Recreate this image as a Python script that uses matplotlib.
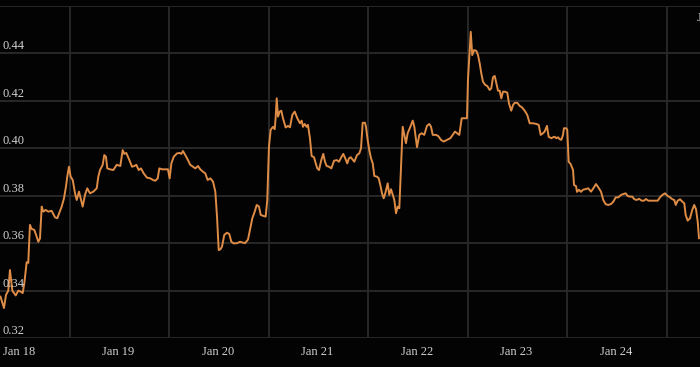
import numpy as np
import matplotlib
matplotlib.use("Agg")
import matplotlib.pyplot as plt

# decimal year vs value
years = [2017.985, 2018.020, 2018.040, 2018.063, 2018.080, 2018.104, 2018.138, 2018.164, 2018.188, 2018.208,
         2018.224, 2018.248, 2018.264, 2018.281, 2018.298, 2018.325, 2018.349, 2018.365, 2018.382, 2018.399,
         2018.415, 2018.439, 2018.465, 2018.499, 2018.533, 2018.556, 2018.576, 2018.600, 2018.623, 2018.643,
         2018.656, 2018.673, 2018.690, 2018.711, 2018.734, 2018.751, 2018.774, 2018.794, 2018.811, 2018.834,
         2018.857, 2018.884, 2018.918, 2018.952, 2018.968, 2018.985, 2019.012, 2019.028, 2019.045, 2019.058,
         2019.085, 2019.119, 2019.153, 2019.189, 2019.213, 2019.229, 2019.249, 2019.273, 2019.307, 2019.330,
         2019.350, 2019.374, 2019.397, 2019.424, 2019.457, 2019.490, 2019.518, 2019.541, 2019.565, 2019.581,
         2019.608, 2019.641, 2019.668, 2019.685, 2019.702, 2019.726, 2019.759, 2019.786, 2019.802, 2019.819,
         2019.842, 2019.869, 2019.892, 2019.920, 2019.943, 2019.970, 2019.993, 2020.020, 2020.043, 2020.067,
         2020.094, 2020.121, 2020.144, 2020.161, 2020.178, 2020.194, 2020.211, 2020.234, 2020.261, 2020.284,
         2020.305, 2020.329, 2020.362, 2020.392, 2020.442, 2020.472, 2020.516, 2020.540, 2020.560, 2020.583,
         2020.600, 2020.626, 2020.650, 2020.666, 2020.683, 2020.700, 2020.724, 2020.741, 2020.751, 2020.761,
         2020.774, 2020.791, 2020.807, 2020.824, 2020.851, 2020.874, 2020.894, 2020.918, 2020.942, 2020.968,
         2020.995, 2021.012, 2021.025, 2021.042, 2021.062, 2021.075, 2021.095, 2021.112, 2021.136, 2021.153,
         2021.169, 2021.186, 2021.209, 2021.229, 2021.246, 2021.263, 2021.286, 2021.310, 2021.337, 2021.364,
         2021.387, 2021.410, 2021.430, 2021.454, 2021.470, 2021.487, 2021.505, 2021.541, 2021.568, 2021.591,
         2021.608, 2021.625, 2021.648, 2021.658, 2021.675, 2021.691, 2021.709, 2021.726, 2021.742, 2021.769,
         2021.786, 2021.802, 2021.819, 2021.836, 2021.852, 2021.876, 2021.892, 2021.910, 2021.927, 2021.943,
         2021.960, 2021.977, 2021.993, 2022.010, 2022.027, 2022.043, 2022.060, 2022.077, 2022.104, 2022.128,
         2022.144, 2022.161, 2022.171, 2022.194, 2022.218, 2022.244, 2022.271, 2022.295, 2022.312, 2022.329,
         2022.362, 2022.385, 2022.412, 2022.439, 2022.472, 2022.506, 2022.530, 2022.553, 2022.573, 2022.596,
         2022.620, 2022.656, 2022.673, 2022.683, 2022.711, 2022.726, 2022.744, 2022.767, 2022.784, 2022.801,
         2022.817, 2022.834, 2022.857, 2022.877, 2022.901, 2022.917, 2022.935, 2022.952, 2022.968, 2022.985,
         2023.002, 2023.018, 2023.035, 2023.052, 2023.078, 2023.095, 2023.118, 2023.136, 2023.153, 2023.179,
         2023.203, 2023.226, 2023.253, 2023.279, 2023.303, 2023.337, 2023.370, 2023.394, 2023.414, 2023.437,
         2023.454, 2023.477, 2023.494, 2023.521, 2023.538, 2023.555, 2023.571, 2023.588, 2023.605, 2023.621,
         2023.638, 2023.648, 2023.671, 2023.681, 2023.695, 2023.715, 2023.739, 2023.749, 2023.769, 2023.779,
         2023.799, 2023.819, 2023.839, 2023.859, 2023.892, 2023.920, 2023.943, 2023.970, 2023.993, 2024.020,
         2024.043, 2024.067, 2024.093, 2024.121, 2024.144, 2024.168, 2024.194, 2024.221, 2024.244, 2024.268,
         2024.288, 2024.312, 2024.335, 2024.355, 2024.379, 2024.402, 2024.429, 2024.452, 2024.472, 2024.495,
         2024.523, 2024.556, 2024.590, 2024.613, 2024.636, 2024.663, 2024.690, 2024.714, 2024.737, 2024.757,
         2024.771, 2024.791, 2024.814, 2024.837, 2024.857, 2024.871, 2024.891, 2024.915, 2024.937, 2024.957,
         2024.975, 2024.992, 2025.005]

values = [0.3375, 0.3327, 0.3382, 0.3400, 0.3487, 0.3400, 0.3380, 0.3400, 0.3396, 0.3390,
          0.3430, 0.3520, 0.3517, 0.3677, 0.3660, 0.3656, 0.3627, 0.3606, 0.3620, 0.3754,
          0.3733, 0.3740, 0.3733, 0.3736, 0.3709, 0.3705, 0.3728, 0.3754, 0.3789, 0.3838,
          0.3880, 0.3922, 0.3880, 0.3866, 0.3810, 0.3782, 0.3817, 0.3782, 0.3754, 0.3803,
          0.3831, 0.3810, 0.3817, 0.3831, 0.3880, 0.3908, 0.3930, 0.3971, 0.3964, 0.3915,
          0.3911, 0.3908, 0.3930, 0.3925, 0.3992, 0.3976, 0.3980, 0.3957, 0.3922, 0.3925,
          0.3930, 0.3908, 0.3915, 0.3894, 0.3876, 0.3873, 0.3866, 0.3863, 0.3873, 0.3915,
          0.3911, 0.3911, 0.3911, 0.3873, 0.3936, 0.3964, 0.3978, 0.3980, 0.3976, 0.3988,
          0.3971, 0.3950, 0.3930, 0.3922, 0.3915, 0.3925, 0.3911, 0.3901, 0.3894, 0.3866,
          0.3873, 0.3859, 0.3817, 0.3712, 0.3571, 0.3574, 0.3585, 0.3635, 0.3644, 0.3639,
          0.3606, 0.3599, 0.3600, 0.3606, 0.3600, 0.3615, 0.3705, 0.3733, 0.3761, 0.3754,
          0.3719, 0.3715, 0.3712, 0.3782, 0.4006, 0.4077, 0.4090, 0.4080, 0.4133, 0.4210,
          0.4133, 0.4154, 0.4158, 0.4126, 0.4087, 0.4094, 0.4088, 0.4140, 0.4154, 0.4126,
          0.4105, 0.4116, 0.4090, 0.4102, 0.4090, 0.4098, 0.4042, 0.3967, 0.3962, 0.3936,
          0.3915, 0.3908, 0.3950, 0.3976, 0.3943, 0.3925, 0.3922, 0.3915, 0.3947, 0.3950,
          0.3943, 0.3962, 0.3976, 0.3953, 0.3936, 0.3957, 0.3962, 0.3943, 0.3971, 0.3978,
          0.3999, 0.4107, 0.4107, 0.4090, 0.4035, 0.3992, 0.3957, 0.3936, 0.3883, 0.3880,
          0.3873, 0.3845, 0.3810, 0.3789, 0.3810, 0.3852, 0.3803, 0.3827, 0.3803, 0.3782,
          0.3726, 0.3754, 0.3747, 0.3922, 0.4090, 0.4056, 0.4021, 0.4063, 0.4090, 0.4116,
          0.4090, 0.4035, 0.4004, 0.4056, 0.4063, 0.4056, 0.4094, 0.4102, 0.4090, 0.4056,
          0.4056, 0.4051, 0.4035, 0.4028, 0.4035, 0.4042, 0.4056, 0.4070, 0.4063, 0.4056,
          0.4126, 0.4126, 0.4126, 0.4287, 0.4490, 0.4392, 0.4413, 0.4410, 0.4392, 0.4357,
          0.4315, 0.4280, 0.4266, 0.4262, 0.4245, 0.4252, 0.4299, 0.4304, 0.4273, 0.4242,
          0.4242, 0.4210, 0.4238, 0.4238, 0.4234, 0.4189, 0.4158, 0.4182, 0.4191, 0.4191,
          0.4178, 0.4172, 0.4158, 0.4140, 0.4105, 0.4105, 0.4102, 0.4098, 0.4056, 0.4063,
          0.4070, 0.4094, 0.4048, 0.4042, 0.4046, 0.4048, 0.4042, 0.4046, 0.4038, 0.4035,
          0.4056, 0.4084, 0.4084, 0.4077, 0.3943, 0.3933, 0.3908, 0.3845, 0.3840, 0.3816,
          0.3825, 0.3816, 0.3825, 0.3827, 0.3831, 0.3817, 0.3831, 0.3849, 0.3835, 0.3817,
          0.3782, 0.3764, 0.3761, 0.3765, 0.3775, 0.3793, 0.3793, 0.3803, 0.3807, 0.3810,
          0.3799, 0.3796, 0.3796, 0.3785, 0.3782, 0.3787, 0.3779, 0.3779, 0.3786, 0.3779,
          0.3779, 0.3779, 0.3779, 0.3793, 0.3803, 0.3810, 0.3799, 0.3793, 0.3785, 0.3782,
          0.3761, 0.3779, 0.3785, 0.3775, 0.3768, 0.3719, 0.3695, 0.3705, 0.3740, 0.3761,
          0.3743, 0.3690, 0.3621]

y_ticks = [0.32, 0.34, 0.36, 0.38, 0.40, 0.42, 0.44]
year_labels = ["Jan 18", "Jan 19", "Jan 20", "Jan 21", "Jan 22", "Jan 23", "Jan 24", "Jan 25"]
label_years = [2018, 2019, 2020, 2021, 2022, 2023, 2024, 2025]

bg = "#030303"
grid_col = "#282828"
text_col = "#d0d0d0"
line_col = "#de8c46"
font = "Liberation Serif"
fs = 9

fig = plt.figure(figsize=(7.0, 3.67), dpi=100, facecolor=bg)
ax = fig.add_axes([0, 0.0785, 1, 0.906])
ax.set_facecolor(bg)

ax.set_xlim(2017.980, 2025.015)
ax.set_ylim(0.32, 0.46)

# grid lines
for yv in y_ticks + [0.46]:
    ax.axhline(yv, color=grid_col, lw=1.4, zorder=1)
for k in range(7):
    ax.axvline(2018.683 + k, color=grid_col, lw=1.4, zorder=1)

ax.plot(years, values, color=line_col, lw=1.4, zorder=3, solid_joinstyle="round")

for yv in y_ticks:
    ax.text(2018.01, yv + 0.0005, "%.2f" % yv, color=text_col, fontsize=fs,
            family=font, ha="left", va="bottom", zorder=4)

for yr, lab in zip(label_years[:-1], year_labels[:-1]):
    ax.text(yr + 0.01, -0.042, lab, transform=ax.get_xaxis_transform(),
            color=text_col, fontsize=fs, family=font, ha="left", va="center",
            clip_on=False)
# last label spills off the top right corner
ax.text(label_years[-1] - 0.02, 0.455, year_labels[-1], color=text_col, fontsize=fs,
        family=font, ha="left", va="center", clip_on=False)

ax.set_xticks([])
ax.set_yticks([])
for s in ax.spines.values():
    s.set_visible(False)

fig.savefig("out.png", dpi=100, facecolor=bg)
